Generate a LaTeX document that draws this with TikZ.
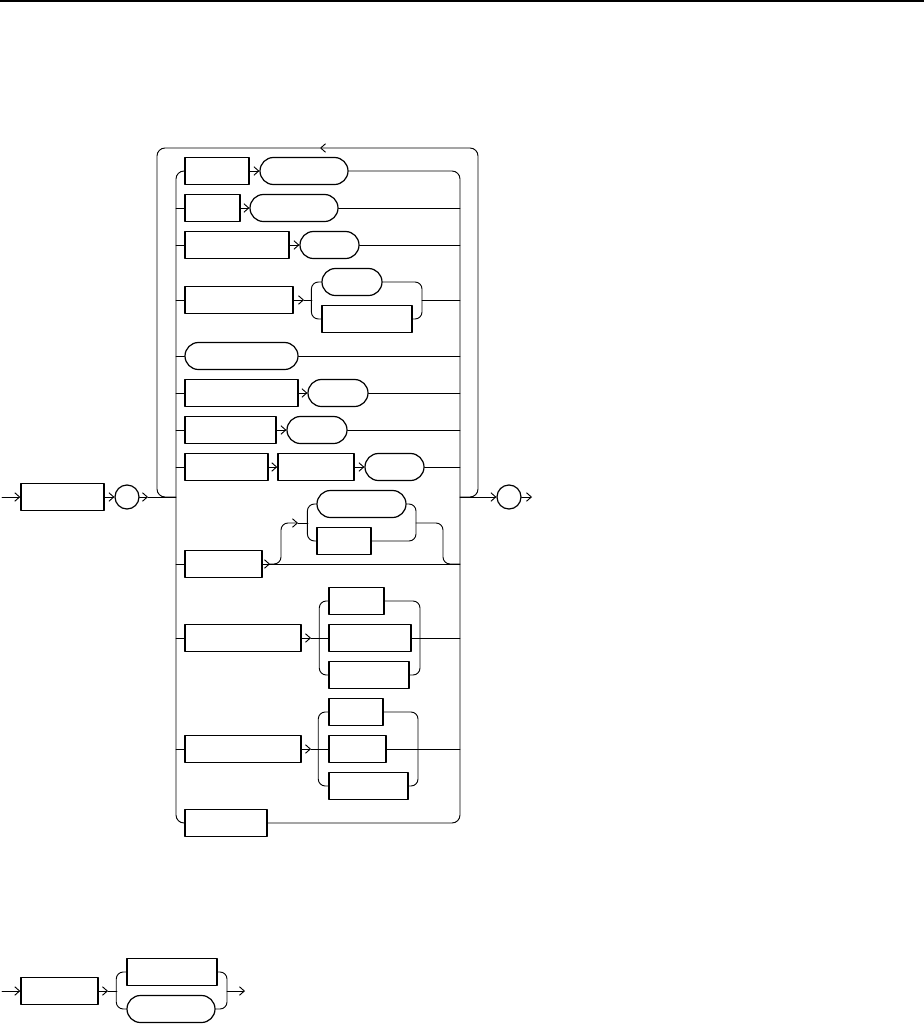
\documentclass[tikz,border=0pt]{standalone}
\usepackage{tikz}
\usetikzlibrary{arrows.meta,positioning}
\tikzset{
  every picture/.append style={line cap=round,line join=round},
  syn line/.style={line width=0.7pt},
  syn arrow/.style={syn line,-{Straight Barb[length=3.6pt,width=6.4pt]}},
  syn box/.style={draw,line width=1.1pt,inner sep=0pt,minimum height=20.25pt,minimum width={#1*0.75pt}},
  syn box/.default=60,
  syn oval/.style={draw,line width=0.9pt,inner sep=0pt,rounded corners=10.1pt,minimum height=20.25pt,minimum width={#1*0.75pt}},
  syn oval/.default=60,
  syn dot/.style={circle,draw,line width=0.9pt,inner sep=0pt,minimum size=18pt},
  syn fork/.style={syn line,rounded corners=5.25pt},
  syn loop/.style={syn line,rounded corners=6pt}
}

\begin{document}
\begin{tikzpicture}[x=0.75pt,y=-0.75pt]
\useasboundingbox (0,0) rectangle (924,1024);
\draw[line width=1.2pt] (0,1) -- (924,1);

% main rule
\coordinate (in1) at (2,497);
\coordinate (out1) at (532,497);
\node[syn box=83] (head) at (62.5,497) {};
\node[syn dot] (open) at (127,497) {};
\node[syn dot] (close) at (509,497) {};
\draw[syn arrow] (in1) -- (head);
\draw[syn arrow] (head) -- (open);
\draw[syn arrow] (open) -- (148,497);
\draw[syn line] (148,497) -- (176,497);
\draw[syn arrow] (460,497) -- (close);
\draw[syn arrow] (close) -- (out1);
\draw[syn loop,-{Straight Barb[length=3.6pt,width=6.4pt]}] (460,497) -| (478,148) -- (320,148);
\draw[syn loop] (320,148) -| (157,497) -- (176,497);

% first alternative
\node[syn box=64] (b1) at (217,171) {};
\node[syn oval=88] (o1) at (304,171) {};
\draw[syn arrow] (b1) -- (o1);
\node[syn box=82] (b12) at (226,823) {};
\draw[syn loop] (b1.west) -- (176,171) -- (176,823) -- (b12.west);
\draw[syn loop] (o1.east) -| (460,823) -- (b12.east);

% box then keyword
\foreach \y/\bx/\bw/\ox/\ow/\n in {
  208/212.5/55/294/88/2,
  245/237/104/329.5/59/3,
  393/241.5/113/338/60/6,
  430/230.5/91/317/60/7
}{
  \node[syn box=\bw] (b\n) at (\bx,\y) {};
  \node[syn oval=\ow] (o\n) at (\ox,\y) {};
  \draw[syn line] (176,\y) -- (b\n.west);
  \draw[syn arrow] (b\n) -- (o\n);
  \draw[syn line] (o\n.east) -- (460,\y);
}

% two-way choice
\node[syn box=108] (b4) at (239,300) {};
\node[syn oval=60] (c4a) at (352,282) {};
\node[syn box=90] (c4b) at (367,319) {};
\draw[syn line] (176,300) -- (b4.west);
\draw[syn arrow] (b4) -- (304,300);
\draw[syn line] (304,300) -- (312,300);
\draw[syn fork] (c4a.west) -- ++(-10,0) |- (c4b.west);
\draw[syn fork] (c4a.east) -| (422,300) |- (c4b.east);
\draw[syn line] (422,300) -- (460,300);

\node[syn oval=113] (o5) at (241.5,356) {};
\draw[syn line] (176,356) -- (o5.west);
\draw[syn line] (o5.east) -- (460,356);

\node[syn box=83] (b8) at (226.5,467) {};
\node[syn box=76] (b8b) at (316,467) {};
\node[syn oval=59] (o8) at (394.5,467) {};
\draw[syn line] (176,467) -- (b8.west);
\draw[syn arrow] (b8) -- (b8b);
\draw[syn arrow] (b8b) -- (o8);
\draw[syn line] (o8.east) -- (460,467);

% optional choice
\node[syn box=77] (b9) at (223.5,564) {};
\node[syn oval=89] (c9a) at (361.5,504) {};
\node[syn box=54] (c9b) at (344,541) {};
\draw[syn line] (176,564) -- (b9.west);
\draw[syn line] (b9) -- (460,564);
\draw[syn arrow] (b9.east) -- (270,564);
\draw[syn fork,-{Straight Barb[length=3.6pt,width=6.4pt]}] (270,564) -| (281,523) -- (298,523);
\draw[syn line] (298,523) -- (308,523);
\draw[syn fork] (c9a.west) -- ++(-9,0) |- (c9b.west);
\draw[syn fork] (c9a.east) -| (416,541) -- (c9b.east);
\draw[syn fork] (416,523) -| (443,564) -- (460,564);

% three-way choices
\node[syn box=116] (b10) at (243,638) {};
\node[syn box=55] (c10a) at (356.5,601) {};
\node[syn box=82] (c10b) at (370,638) {};
\node[syn box=80] (c10c) at (369,675) {};
\draw[syn line] (176,638) -- (b10.west);
\draw[syn arrow] (b10) -- (311,638);
\draw[syn line] (311,638) -- (c10b);
\draw[syn fork] (c10a.west) -- ++(-9,0) |- (c10c.west);
\draw[syn fork] (c10a.east) -| (420,675) -- (c10c.east);
\draw[syn line] (c10b) -- (460,638);

\node[syn box=116] (b11) at (243,749) {};
\node[syn box=54] (c11a) at (356,712) {};
\node[syn box=57] (c11b) at (357.5,749) {};
\node[syn box=79] (c11c) at (368.5,786) {};
\draw[syn line] (176,749) -- (b11.west);
\draw[syn arrow] (b11) -- (311,749);
\draw[syn line] (311,749) -- (c11b);
\draw[syn fork] (c11a.west) -- ++(-10,0) |- (c11c.west);
\draw[syn fork] (c11a.east) -| (418,786) -- (c11c.east);
\draw[syn line] (c11b) -- (460,749);

% second rule
\coordinate (in2) at (2,991);
\coordinate (out2) at (245,991);
\node[syn box=77] (tail) at (59.5,991) {};
\node[syn box=90] (d1) at (172,972) {};
\node[syn oval=88] (d2) at (171,1009) {};
\draw[syn arrow] (in2) -- (tail);
\draw[syn arrow] (tail) -- (108,991);
\draw[syn line] (108,991) -- (117,991);
\draw[syn fork] (d1.west) -- ++(-10,0) |- (d2.west);
\draw[syn fork] (d1.east) -| (227,991) |- (d2.east);
\draw[syn arrow] (227,991) -- (out2);
\end{tikzpicture}
\end{document}
